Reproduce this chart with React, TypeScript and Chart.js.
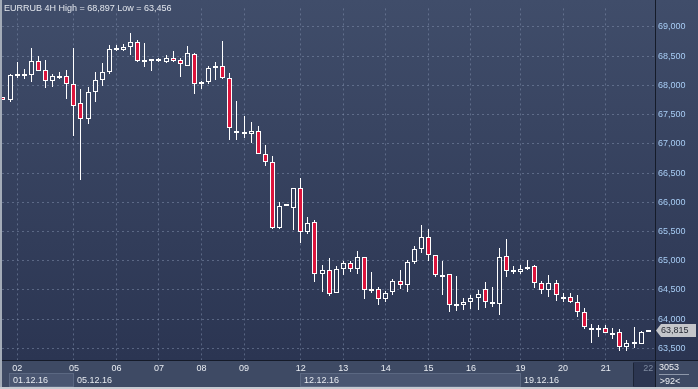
import React, { useEffect, useRef } from 'react';
import { Chart, registerables } from 'chart.js';

Chart.register(...registerables);

// ---- data (EURRUB 4H candles) ----
const opens = [
  67796, 67751, 68164, 68164, 68176, 68415, 68259, 68076, 68142, 68159,
  68025, 67691, 67424, 67892, 68092, 68226, 68604, 68604, 68661, 68744,
  68430, 68450, 68448, 68403, 68477, 68443, 68336, 68544, 68025, 68059,
  68293, 68336, 68126, 67205, 67190, 67166, 67223, 66822, 66688, 65561,
  65955, 65902, 66237, 65484, 65668, 64766, 64849, 64448, 64866, 64966,
  64866, 65067, 64520, 64515, 64348, 64465, 64649, 64582, 64983, 65200,
  65401, 65100, 64755, 64766, 64250, 64247, 64298, 64364, 64515, 64298,
  64264, 65083, 64799, 64799, 64866, 64916, 64615, 64498, 64615, 64385,
  64381, 64298, 64114, 63850, 63850, 63846, 63767, 63779, 63529, 63590,
  63579, 63779,
];
const highs = [
  67800, 68203, 68398, 68281, 68632, 68499, 68432, 68198, 68231, 68264,
  68632, 67947, 67980, 68231, 68381, 68699, 68699, 68716, 68897, 68778,
  68733, 68460, 68465, 68527, 68582, 68477, 68677, 68560, 68076, 68326,
  68393, 68761, 68209, 67725, 67479, 67373, 67312, 66977, 66793, 66003,
  65975, 66237, 66421, 65740, 65702, 64933, 65050, 64916, 65000, 65000,
  65167, 65067, 64799, 64548, 64481, 64682, 64849, 65010, 65250, 65618,
  65535, 65100, 65000, 64766, 64732, 64364, 64415, 64498, 64632, 64548,
  65217, 65367, 64916, 64933, 65016, 64933, 64649, 64749, 64665, 64448,
  64448, 64415, 64197, 63913, 63896, 63896, 63856, 63829, 63646, 63863,
  63796, 63820,
];
const lows = [
  67750, 67718, 68119, 68102, 68052, 68240, 67952, 67980, 68109, 67768,
  67128, 66380, 67333, 67718, 67997, 68203, 68582, 68582, 68520, 68403,
  68315, 68253, 68403, 68386, 68393, 68136, 68336, 67852, 67935, 68025,
  68092, 68109, 67066, 67066, 67099, 67011, 66822, 66615, 65545, 65545,
  65950, 65528, 65311, 65461, 64642, 64458, 64398, 64448, 64749, 64799,
  64766, 64348, 64448, 64247, 64298, 64415, 64508, 64458, 64943, 65133,
  64993, 64715, 64408, 64124, 64147, 64164, 64181, 64164, 64197, 64202,
  64063, 64715, 64766, 64766, 64832, 64532, 64431, 64381, 64308, 64298,
  64281, 64030, 63829, 63595, 63696, 63763, 63662, 63456, 63460, 63512,
  63579, 63779,
];
const closes = [
  67758, 68176, 68198, 68198, 68415, 68243, 68076, 68159, 68156, 68025,
  67641, 67424, 67892, 68092, 68226, 68627, 68632, 68661, 68744, 68420,
  68420, 68440, 68410, 68477, 68420, 68360, 68560, 68025, 68059, 68293,
  68336, 68126, 67273, 67215, 67200, 67223, 66822, 66688, 65561, 65936,
  65970, 66237, 65484, 65652, 64766, 64832, 64431, 64866, 64966, 64866,
  65067, 64498, 64510, 64348, 64448, 64649, 64582, 64983, 65200, 65401,
  65100, 64749, 64745, 64247, 64240, 64298, 64364, 64431, 64298, 64264,
  65067, 64816, 64849, 64866, 64899, 64615, 64498, 64615, 64415, 64375,
  64298, 64130, 63863, 63842, 63843, 63763, 63759, 63529, 63595, 63600,
  63779, 63815,
];

const dayTickIndex = [2, 10, 16, 22, 28, 34, 42, 48, 54, 60, 66, 73, 79, 85, 91];
const dayTickLabels = ['02', '05', '06', '07', '08', '09', '12', '13', '14', '15', '16', '19', '20', '21', '22'];
const weekStartIndex = [1, 10, 42, 73];
const weekLabels = ['01.12.16', '05.12.16', '12.12.16', '19.12.16'];
const weekShaded = [true, false, true, false];
const priceTicks = [63500, 64000, 64500, 65000, 65500, 66000, 66500, 67000, 67500, 68000, 68500, 69000];
const titleText = 'EURRUB 4H High = 68,897 Low = 63,456';
const lastPrice = 63815;
const lastPriceLabel = '63,815';
const cornerTop = '3053';
const cornerBottom = '>92<';

// ---- styles ----
const FONT = "'Liberation Sans', Arial, sans-serif";
const RED = '#dc143c';
const GRID = 'rgba(125,140,170,0.55)';
const AXIS_BG = '#3e4a64';

function fmt(v: number): string {
  return String(v).replace(/\B(?=(\d{3})+(?!\d))/g, ',');
}

const snapPlugin = {
  id: 'snapBars',
  beforeDatasetsDraw(chart: any) {
    chart.data.datasets.forEach((_ds: any, di: number) => {
      const meta = chart.getDatasetMeta(di);
      meta.data.forEach((el: any) => {
        if (el.skip || isNaN(el.y) || isNaN(el.base)) return;
        el.x = Math.floor(el.x) + 0.5;
        const top = Math.round(Math.min(el.y, el.base));
        let bot = Math.round(Math.max(el.y, el.base));
        if (di === 0 && bot - top < 2) bot = top + 2;
        el.y = top;
        el.base = bot;
      });
    });
  },
};

const decorPlugin = {
  id: 'decor',
  beforeDraw(chart: any) {
    const ctx = chart.ctx;
    const W = chart.width;
    const H = chart.height;
    const area = chart.chartArea;
    const xs = chart.scales.x;
    ctx.save();
    const g = ctx.createLinearGradient(0, 0, 0, area.bottom);
    g.addColorStop(0, '#404d6a');
    g.addColorStop(1, '#2b3552');
    ctx.fillStyle = g;
    ctx.fillRect(0, 0, W, area.bottom);
    ctx.fillStyle = AXIS_BG;
    ctx.fillRect(0, area.bottom, W, H - area.bottom);

    // week boxes
    const rowTop = 373.5;
    const rowBot = 386.5;
    const futureLeft = Math.round(xs.getPixelForValue(91)) - 15;
    weekStartIndex.forEach((wi, k) => {
      const x0 = Math.round(xs.getPixelForValue(wi)) - 1;
      const x1 = k + 1 < weekStartIndex.length ? Math.round(xs.getPixelForValue(weekStartIndex[k + 1])) - 1 : futureLeft;
      if (weekShaded[k]) {
        ctx.fillStyle = '#4a5671';
        ctx.fillRect(x0, rowTop, x1 - x0, rowBot - rowTop);
        ctx.strokeStyle = '#5b6882';
        ctx.lineWidth = 1;
        ctx.strokeRect(x0 + 0.5, rowTop, x1 - x0, rowBot - rowTop);
      }
      ctx.fillStyle = '#e6eaf0';
      ctx.font = `9px ${FONT}`;
      ctx.textBaseline = 'middle';
      ctx.textAlign = 'left';
      ctx.fillText(weekLabels[k], x0 + 4, 380.5);
    });
    // future region
    ctx.fillStyle = '#2c3651';
    ctx.fillRect(futureLeft, area.bottom + 2, area.right - futureLeft, 25);
    ctx.strokeStyle = '#1c2436';
    ctx.beginPath();
    ctx.moveTo(futureLeft + 0.5, area.bottom + 3);
    ctx.lineTo(futureLeft + 0.5, 386);
    ctx.stroke();

    // corner texts
    ctx.fillStyle = '#eef1f5';
    ctx.textAlign = 'center';
    ctx.fillText(cornerTop, 669, 368);
    ctx.fillText(cornerBottom, 670, 381.5);
    ctx.strokeStyle = '#8e98aa';
    ctx.beginPath();
    ctx.moveTo(659, 374.5);
    ctx.lineTo(689, 374.5);
    ctx.stroke();
    ctx.restore();
  },
  afterDraw(chart: any) {
    const ctx = chart.ctx;
    const W = chart.width;
    const H = chart.height;
    const area = chart.chartArea;
    const ys = chart.scales.y;
    ctx.save();
    // axis separators
    ctx.strokeStyle = '#151b29';
    ctx.lineWidth = 1;
    ctx.beginPath();
    ctx.moveTo(0, area.bottom + 0.5);
    ctx.lineTo(W, area.bottom + 0.5);
    ctx.stroke();
    ctx.beginPath();
    ctx.moveTo(area.right + 0.5, 0);
    ctx.lineTo(area.right + 0.5, H);
    ctx.stroke();

    // title
    ctx.fillStyle = '#e2e6ed';
    ctx.font = `9px ${FONT}`;
    ctx.textAlign = 'left';
    ctx.textBaseline = 'alphabetic';
    ctx.fillText(titleText, 4, 11);

    // last price tag
    const py = Math.round(ys.getPixelForValue(lastPrice)) + 0.5;
    ctx.fillStyle = '#c4c6ca';
    ctx.beginPath();
    ctx.moveTo(area.right + 1, py);
    ctx.lineTo(area.right + 6, py - 6.5);
    ctx.lineTo(W - 2, py - 6.5);
    ctx.lineTo(W - 2, py + 6.5);
    ctx.lineTo(area.right + 6, py + 6.5);
    ctx.closePath();
    ctx.fill();
    ctx.fillStyle = '#262b35';
    ctx.textBaseline = 'middle';
    ctx.fillText(lastPriceLabel, area.right + 6, py);

    // frame
    ctx.fillStyle = '#a4acb8';
    ctx.fillRect(0, 0, 2, H);
    ctx.fillStyle = '#c6cad1';
    ctx.fillRect(0, H - 2, W, 2);
    ctx.restore();
  },
};

export default function App() {
  const canvasRef = useRef<HTMLCanvasElement | null>(null);

  useEffect(() => {
    const canvas = canvasRef.current;
    if (!canvas) return;

    const bodies = opens.map((o, i) => ({ x: i, y: [o, closes[i]] }));
    const upper = opens.map((o, i) => {
      const top = Math.max(o, closes[i]);
      return highs[i] > top ? { x: i, y: [top, highs[i]] } : { x: i, y: null };
    });
    const lower = opens.map((o, i) => {
      const bot = Math.min(o, closes[i]);
      return lows[i] < bot ? { x: i, y: [lows[i], bot] } : { x: i, y: null };
    });

    const chart = new Chart(canvas, {
      type: 'bar',
      data: {
        datasets: [
          {
            label: 'body',
            data: bodies as any,
            backgroundColor: opens.map((o, i) => (closes[i] < o ? RED : 'rgba(0,0,0,0)')),
            borderColor: '#ffffff',
            borderWidth: 1,
            borderSkipped: false,
            barThickness: 5,
            inflateAmount: 0,
            grouped: false,
            order: 0,
          } as any,
          {
            label: 'upper',
            data: upper as any,
            backgroundColor: '#ffffff',
            borderWidth: 0,
            barThickness: 1,
            inflateAmount: 0,
            grouped: false,
            order: 1,
          } as any,
          {
            label: 'lower',
            data: lower as any,
            backgroundColor: '#ffffff',
            borderWidth: 0,
            barThickness: 1,
            inflateAmount: 0,
            grouped: false,
            order: 1,
          } as any,
        ],
      },
      options: {
        responsive: false,
        animation: false,
        devicePixelRatio: 1,
        events: [],
        layout: { padding: { left: 2, top: 0, right: 0, bottom: 0 } },
        plugins: {
          legend: { display: false },
          tooltip: { enabled: false },
          title: { display: false },
        },
        scales: {
          x: {
            type: 'linear',
            min: -0.141,
            max: 91.96,
            offset: false,
            grid: {
              offset: false,
              drawTicks: false,
              lineWidth: 1,
              color: (c: any) => (c.tick && c.tick.value === 91 ? 'rgba(0,0,0,0)' : GRID),
            },
            border: { display: false, dash: [2, 3] },
            ticks: {
              autoSkip: false,
              maxRotation: 0,
              minRotation: 0,
              padding: 3,
              font: { family: FONT, size: 9 },
              color: (c: any) => (c.tick && c.tick.value === 91 ? '#7f8ba1' : '#e8ecf2'),
              callback: (v: any) => {
                const k = dayTickIndex.indexOf(Number(v));
                return k >= 0 ? dayTickLabels[k] : '';
              },
            },
            afterBuildTicks: (s: any) => {
              s.ticks = dayTickIndex.map((v) => ({ value: v }));
            },
            afterFit: (s: any) => {
              s.height = 29;
            },
          } as any,
          y: {
            type: 'linear',
            position: 'right',
            min: 63300,
            max: 69318,
            grid: { drawTicks: false, lineWidth: 1, color: GRID },
            border: { display: false, dash: [2, 3] },
            ticks: {
              padding: 3,
              font: { family: FONT, size: 9 },
              color: '#a8cdf5',
              callback: (v: any) => fmt(Number(v)),
            },
            afterBuildTicks: (s: any) => {
              s.ticks = priceTicks.map((v) => ({ value: v }));
            },
            afterFit: (s: any) => {
              s.width = 43;
            },
          } as any,
        },
      },
      plugins: [snapPlugin, decorPlugin],
    });

    return () => {
      chart.destroy();
    };
  }, []);

  return (
    <div style={{ position: 'fixed', left: 0, top: 0, width: 698, height: 389 }}>
      <canvas ref={canvasRef} width={698} height={389} style={{ display: 'block', width: 698, height: 389 }} />
    </div>
  );
}
